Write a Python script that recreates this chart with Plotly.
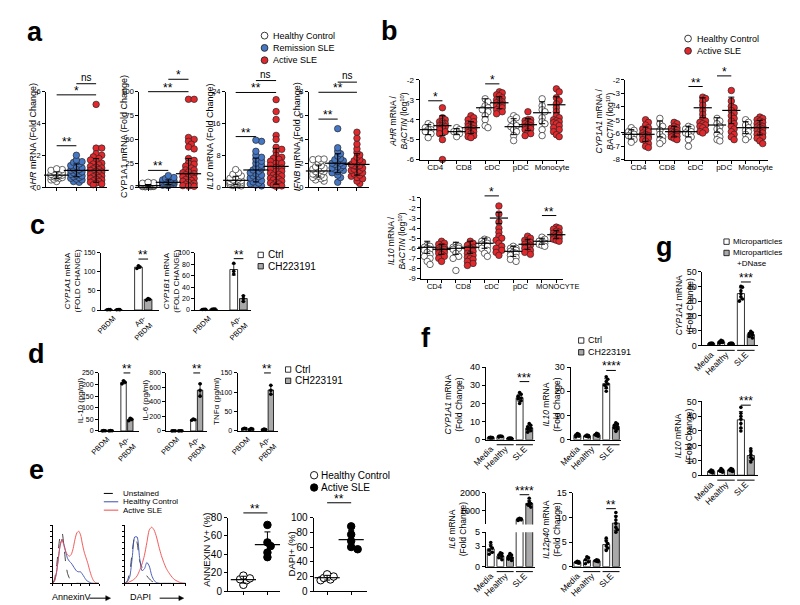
import numpy as np
import plotly.graph_objects as go

# ====================== DATA ======================
# ---- a : PBMC mRNA (fold change) ; groups = Healthy Control, Remission SLE, Active SLE
a_group_names = ["Healthy Control", "Remission SLE", "Active SLE"]
a_ahr_hc = [0.35, 0.45, 0.5, 0.55, 0.6, 0.6, 0.65, 0.65, 0.7, 0.7, 0.75, 0.75, 0.8, 0.8, 0.85, 0.9, 0.95, 1.0, 1.05, 1.1, 1.15]
a_ahr_rem = [0.3, 0.35, 0.45, 0.5, 0.55, 0.6, 0.65, 0.7, 0.75, 0.8, 0.85, 0.9, 0.95, 1.0, 1.05, 1.1, 1.15, 1.2, 1.3, 1.35, 1.45, 1.55, 1.6, 1.7, 2.0]
a_ahr_act = [5.2, 2.45, 2.45, 2.1, 2.0, 1.9, 1.8, 1.7, 1.6, 1.5, 1.45, 1.4, 1.3, 1.25, 1.2, 1.15, 1.1, 1.05, 1.0, 0.95,
             0.9, 0.85, 0.8, 0.75, 0.7, 0.65, 0.6, 0.55, 0.5, 0.45, 0.4, 0.35, 0.3, 0.25, 0.2, 0.15]
a_ahr_mean = [0.75, 1.05, 1.05]
a_ahr_sd = [0.2, 0.4, 0.75]

a_cyp_hc = [0.3, 0.5, 0.6, 0.7, 0.8, 1.0, 1.0, 1.2, 1.3, 1.5, 1.6, 1.8, 2.0, 2.2, 2.5, 3.0, 3.5, 4.0, 4.5, 5.0]
a_cyp_rem = [1.5, 2, 2.5, 3, 3, 3.5, 4, 4, 4.5, 5, 5, 5.5, 6, 6, 6.5, 7, 7.5, 8, 9, 10, 12]
a_cyp_act = [92, 92, 52, 50, 48, 45, 42, 40, 30, 28, 25, 24, 22, 20, 18, 18, 16, 15, 14, 13, 12, 11, 10, 9, 8, 7, 6, 5,
             4, 3, 2, 1.5, 1, 0.8]
a_cyp_mean = [1.5, 5.0, 14.0]
a_cyp_sd = [1.2, 2.5, 16.0]

a_il10_hc = [0.3, 0.4, 0.5, 0.6, 0.6, 0.7, 0.8, 0.9, 1.0, 1.0, 1.1, 1.2, 1.3, 1.4, 1.5, 1.6, 1.8, 2.0, 2.2, 2.5, 2.8,
             3.2, 3.6, 4.4]
a_il10_rem = [0.3, 0.5, 0.8, 1.0, 1.3, 1.6, 2.0, 2.3, 2.6, 2.8, 3.0, 3.3, 3.6, 4.0, 4.3, 4.6, 5.0, 5.5, 6.0, 6.5, 7.0,
              7.5, 8.0, 9.0, 11.5, 11.8]
a_il10_act = [22, 19, 17, 13, 12, 10, 9.5, 9, 8, 7.5, 7.2, 7, 6.5, 6, 6, 5.5, 5, 4.8, 4.5, 4, 4, 3.5, 3.2, 3, 2.8, 2.5,
              2.2, 2, 1.8, 1.5, 1.2, 1, 0.8, 0.5, 0.3, 0.2]
a_il10_mean = [1.7, 4.3, 5.2]
a_il10_sd = [1.0, 3.0, 4.5]

a_ifnb_hc = [0.5, 0.6, 0.7, 0.8, 0.8, 0.9, 1.0, 1.0, 1.1, 1.2, 1.3, 1.3, 1.4, 1.5, 1.5, 1.6, 1.7, 1.8, 2.0, 2.2, 2.3,
             2.35, 2.35]
a_ifnb_rem = [0.4, 0.8, 1.0, 1.2, 1.3, 1.4, 1.5, 1.6, 1.6, 1.7, 1.8, 1.9, 2.0, 2.0, 2.1, 2.2, 2.3, 2.4, 2.6, 2.8, 3.0,
              3.3, 4.9]
a_ifnb_act = [0.3, 0.5, 0.7, 0.8, 0.9, 1.0, 1.1, 1.2, 1.3, 1.4, 1.4, 1.5, 1.6, 1.7, 1.8, 1.8, 1.9, 2.0, 2.1, 2.2, 2.3,
              2.5, 2.7, 2.9, 3.2, 3.6, 4.1, 4.6]
a_ifnb_mean = [1.35, 2.0, 1.9]
a_ifnb_sd = [0.5, 0.8, 0.9]

# ---- b : sorted cells, log10 (mRNA / BACTIN) ; per cell type: Healthy Control vs Active SLE
b_cells = ["CD4", "CD8", "cDC", "pDC", "Monocyte"]
b_cells_il10 = ["CD4", "CD8", "cDC", "pDC", "MONOCYTE"]
b_ahr_hc = [[-4.2, -4.3, -4.4, -4.5, -4.5, -4.6, -4.7, -4.9],
            [-4.4, -4.5, -4.6, -4.6, -4.7, -4.85],
            [-2.95, -3.1, -3.3, -3.4, -3.5, -3.6, -3.8, -4.0, -4.3, -4.4],
            [-3.8, -3.9, -4.0, -4.2, -4.3, -4.35, -4.5, -4.6, -4.8, -5.05],
            [-2.95, -3.3, -3.5, -3.6, -3.9, -4.1, -4.2, -4.5, -4.8]]
b_ahr_sle = [[-3.4, -3.9, -4.0, -4.1, -4.1, -4.2, -4.2, -4.3, -4.3, -4.35, -4.4, -4.5, -4.6, -4.7, -5.0, -6.0],
             [-3.8, -3.9, -4.0, -4.1, -4.2, -4.25, -4.3, -4.35, -4.4, -4.45, -4.5, -4.55, -4.6, -4.65, -4.7, -4.8, -4.85, -4.9],
             [-2.6, -2.65, -2.75, -2.8, -2.9, -3.0, -3.0, -3.1, -3.1, -3.15, -3.2, -3.25, -3.3, -3.35, -3.4, -3.5, -3.6, -3.7],
             [-3.6, -4.0, -4.0, -4.05, -4.1, -4.15, -4.2, -4.25, -4.3, -4.35, -4.4, -4.45, -4.5, -4.6, -4.7, -4.8],
             [-2.45, -2.6, -2.9, -3.05, -3.2, -3.4, -3.6, -3.8, -3.9, -4.0, -4.05, -4.1, -4.15, -4.2, -4.3, -4.4, -4.5,
              -4.6, -4.75, -4.85]]
b_ahr_mean_hc = [-4.5, -4.6, -3.4, -4.35, -3.65]
b_ahr_mean_sle = [-4.3, -4.4, -3.15, -4.25, -3.25]
b_ahr_sd_hc = [0.25, 0.15, 0.45, 0.4, 0.55]
b_ahr_sd_sle = [0.5, 0.3, 0.3, 0.3, 0.4]

b_cyp_hc = [[-5.6, -5.8, -5.9, -6.0, -6.1, -6.2, -6.3, -6.5, -6.7],
            [-4.9, -5.3, -5.5, -5.8, -6.1, -6.3, -6.5, -6.6, -6.8],
            [-5.5, -5.6, -5.7, -5.8, -5.9, -6.0, -6.1, -6.3, -6.5, -7.0],
            [-4.9, -5.1, -5.3, -5.5, -5.7, -5.9, -6.1, -6.3, -6.5, -6.6],
            [-5.0, -5.2, -5.4, -5.6, -5.8, -5.9, -6.1, -6.3, -6.5]]
b_cyp_sle = [[-5.0, -5.2, -5.4, -5.6, -5.7, -5.8, -5.9, -6.0, -6.1, -6.2, -6.2, -6.3, -6.4, -6.5, -6.6, -6.8, -7.0, -7.1],
             [-5.2, -5.3, -5.5, -5.6, -5.65, -5.7, -5.8, -5.9, -5.95, -6.0, -6.1, -6.2, -6.25, -6.3, -6.4, -6.5],
             [-3.3, -3.4, -3.6, -3.9, -4.3, -4.6, -4.9, -5.1, -5.2, -5.3, -5.4, -5.5, -5.6, -5.8, -5.9, -6.0],
             [-2.8, -3.6, -4.0, -4.1, -4.3, -4.5, -4.7, -4.9, -5.1, -5.3, -5.5, -5.7, -5.9, -6.1, -6.3, -6.5],
             [-4.8, -4.9, -5.0, -5.1, -5.2, -5.3, -5.4, -5.5, -5.55, -5.6, -5.7, -5.8, -5.9, -6.0, -6.1, -6.2, -6.3,
              -6.4, -6.6, -6.8]]
b_cyp_mean_hc = [-6.1, -5.7, -5.9, -5.4, -5.6]
b_cyp_mean_sle = [-6.1, -5.9, -4.1, -4.3, -5.6]
b_cyp_sd_hc = [0.35, 0.6, 0.4, 0.55, 0.45]
b_cyp_sd_sle = [0.55, 0.4, 0.75, 1.0, 0.55]

b_il10_hc = [[-5.7, -5.8, -5.9, -6.0, -6.1, -6.2, -6.4, -6.6, -6.8, -7.0, -7.3, -7.6],
             [-5.7, -5.8, -5.9, -5.95, -6.0, -6.1, -6.5, -6.8, -7.0, -8.2],
             [-5.1, -5.2, -5.3, -5.4, -5.5, -5.6, -5.7, -5.8, -6.0, -6.2, -6.5, -6.8],
             [-5.8, -6.0, -6.0, -6.1, -6.2, -6.3, -6.4, -6.5, -6.7, -6.9, -7.1, -7.3],
             [-4.9, -5.1, -5.3, -5.4, -5.5, -5.6, -5.7, -5.8]]
b_il10_sle = [[-5.3, -5.5, -5.6, -5.8, -5.9, -6.0, -6.05, -6.1, -6.2, -6.3, -6.4, -6.5, -6.6, -6.8, -7.0, -7.3],
              [-5.3, -5.5, -5.7, -5.9, -6.0, -6.1, -6.3, -6.5, -6.6, -6.7, -6.9, -7.0, -7.1, -7.3, -7.5, -7.7],
              [-1.8, -2.6, -3.4, -4.0, -4.4, -4.8, -5.0, -5.2, -5.5, -5.8, -6.0, -6.2, -6.4, -6.7],
              [-4.8, -5.0, -5.2, -5.4, -5.5, -5.6, -5.7, -5.8, -6.0, -6.2, -6.4, -6.6],
              [-3.9, -4.0, -4.1, -4.3, -4.4, -4.5, -4.6, -4.7, -4.8, -4.9, -5.0, -5.1, -5.2, -5.3]]
b_il10_mean_hc = [-5.9, -6.0, -5.5, -6.3, -5.3]
b_il10_mean_sle = [-6.1, -5.9, -3.0, -5.6, -4.65]
b_il10_sd_hc = [0.6, 0.6, 0.5, 0.5, 0.3]
b_il10_sd_sle = [0.5, 0.6, 0.55, 0.5, 0.4]

# ---- c / d : PBDM vs apoptotic-cell-treated PBDM, Ctrl vs CH223191 (replicates per bar)
cd_categories = ["PBDM", "Ap-<br>PBDM"]
c_cyp1a1_ctrl = [[0.8, 1.0, 1.2], [109, 113, 116]]
c_cyp1a1_ch = [[0.8, 1.0, 1.2], [26, 28, 30]]
c_cyp1b1_ctrl = [[1.0, 1.2, 1.4], [63, 68, 82]]
c_cyp1b1_ch = [[1.3, 1.5, 1.7], [15, 20, 25]]
d_il10_ctrl = [[0.5, 1.0, 1.5], [203, 210, 216]]
d_il10_ch = [[0.5, 1.0, 1.5], [44, 50, 55]]
d_il6_ctrl = [[1, 2, 3], [148, 155, 165]]
d_il6_ch = [[1, 2, 3], [480, 560, 650]]
d_tnf_ctrl = [[5, 6, 7], [3, 4, 5]]
d_tnf_ch = [[4, 5, 6], [95, 105, 118]]

# ---- e : flow histograms (log10 fluorescence vs % of max) and summary dot plots
e_hist_x = [0.0, 0.2, 0.4, 0.6, 0.8, 1.0, 1.2, 1.4, 1.6, 1.8, 2.0, 2.2, 2.4, 2.6, 2.8, 3.0, 3.2, 3.4, 3.6, 3.8, 4.0,
            4.2, 4.4, 4.6, 4.8, 5.0]
annexin_unstained = [0, 8, 28, 58, 82, 88, 65, 35, 17, 9, 5, 2.5, 1, 0.3, 0, 0, 0, 0, 0, 0, 0, 0, 0, 0, 0, 0]
annexin_healthy = [0, 5, 19, 43, 66, 76, 68, 54, 43, 38, 35, 30, 25, 21, 20, 20, 16, 11, 6, 3.5, 1.8, 0.5, 0.2, 0, 0, 0]
annexin_sle = [0, 5, 19, 43, 66, 76, 65, 55, 49, 47, 50, 60, 76, 87, 90, 84, 68, 54, 44, 34, 22, 12, 5, 1.5, 0.3, 0]
dapi_unstained = [0, 5, 20, 55, 81, 70, 40, 28, 20, 13, 8, 4, 2, 1, 0.3, 0, 0, 0, 0, 0, 0, 0, 0, 0, 0, 0]
dapi_healthy = [0, 3, 12, 45, 80, 80, 45, 22, 25, 36, 30, 14, 5, 1.5, 0.3, 0, 0, 0, 0, 0, 0, 0, 0, 0, 0, 0]
dapi_sle = [0, 1, 3, 5, 8, 13, 22, 33, 48, 70, 92, 97, 92, 80, 63, 48, 36, 26, 19, 13, 8, 5, 3, 1, 0.3, 0]
e_annexin_hc = [7, 12, 13, 14, 17]
e_annexin_sle = [72, 53, 49, 42, 37]
e_annexin_mean = [12.6, 50.6]
e_annexin_sd = [3.7, 13.8]
e_dapi_hc = [15, 16, 18, 20, 23]
e_dapi_sle = [88, 77, 68, 60, 57]
e_dapi_mean = [18.4, 70.0]
e_dapi_sd = [3.2, 12.5]

# ---- f / g : bars = Media, Healthy (Ctrl), Healthy (treated), SLE (Ctrl), SLE (treated)
fg_categories = ["Media", "Healthy", "SLE"]
f_cyp1a1 = [[1.0, 1.1, 1.2, 1.3, 1.4, 1.2], [1.5, 1.7, 1.8, 2.0, 2.1, 1.9], [0.6, 0.7, 0.8, 0.9, 1.0, 0.8],
            [20, 21.5, 22.5, 23, 24, 25, 26], [4.2, 5, 5.8, 6.5, 7.2, 8, 9]]
f_il10 = [[1.2, 1.5, 1.8, 2.0, 2.3, 2.6], [1.2, 1.4, 1.6, 1.8, 2.0], [1.5, 1.8, 2.1, 2.4, 2.7],
          [20, 21.5, 22.5, 23, 24, 25, 26], [3.5, 4.5, 5, 5.5, 6, 6.5, 7]]
f_il6 = [[1.8, 2.1, 2.4, 2.7, 3.0, 3.5], [1.0, 1.3, 1.5, 1.7, 1.9, 2.0], [0.9, 1.1, 1.3, 1.5, 1.7, 1.9],
         [440, 480, 500, 520, 540, 560], [1200, 1300, 1350, 1400, 1500, 1700]]
f_il12p40 = [[0.7, 0.8, 0.9, 1.0, 1.1], [0.6, 1.0, 1.4, 1.8, 2.0], [1.0, 1.1, 1.2, 1.3, 1.4],
             [3.3, 3.8, 4.2, 4.7, 5.2, 5.8], [7, 7.5, 8, 8.8, 9.5, 10.2, 11]]
g_cyp1a1 = [[0.8, 1.0, 1.2, 1.4, 1.6], [1.5, 2, 2.5, 3, 3.5, 2.2], [0.8, 1.0, 1.2, 1.4, 1.6],
            [30, 31.5, 33, 35, 37, 39.5, 40], [5, 6, 7, 8, 8.5, 9.5]]
g_il10 = [[1.5, 2, 2.5, 3, 3.5], [2, 2.5, 3, 3.5, 4.5], [2.5, 3, 3.5, 4, 4.5],
          [30, 32, 35, 38, 40, 42, 46], [9, 11, 12, 14, 16, 18]]

# ====================== STYLE / LAYOUT HELPERS ======================
W, H = 800, 605
RED = "#e2282c"
BLUE = "#4677c4"
GREY = "#a9a9a9"
EDGE = "#262626"
HBLUE = "#3b4fb0"
HRED = "#ee4a4a"

fig = go.Figure()
layout = dict(width=W, height=H, margin=dict(l=0, r=0, t=0, b=0, pad=0), paper_bgcolor="white",
              plot_bgcolor="rgba(0,0,0,0)", showlegend=False, barmode="overlay", hovermode=False,
              font=dict(family="Arial, 'Liberation Sans', Helvetica, sans-serif", size=8, color="black"))
shapes, annots = [], []


class Ax:
    n = 0

    def __init__(self, x0, x1, ytop, ybot, xr, yr, yticks=None, ytfs=8, xtickvals=None, xticktext=None, xtfs=8,
                 xangle=0, xticks="", showx=True, ylabels=True, xminor=None, ticklen=3):
        Ax.n += 1
        n = Ax.n
        self.x = "x" if n == 1 else f"x{n}"
        self.y = "y" if n == 1 else f"y{n}"
        kx = "xaxis" if n == 1 else f"xaxis{n}"
        ky = "yaxis" if n == 1 else f"yaxis{n}"
        self.x0, self.x1, self.ytop, self.ybot = x0, x1, ytop, ybot
        self.xr, self.yr = xr, yr
        self.sx = (x1 - x0) / (xr[1] - xr[0])
        self.sy = (ybot - ytop) / (yr[1] - yr[0])
        xa = dict(domain=[x0 / W, x1 / W], range=list(xr), anchor=self.y, showline=showx, linecolor="black",
                  linewidth=1, showgrid=False, zeroline=False, ticks=xticks if showx else "", ticklen=ticklen,
                  tickwidth=1, tickcolor="black", tickfont=dict(size=xtfs), tickangle=xangle, fixedrange=True)
        if xtickvals is not None and showx:
            xa.update(tickmode="array", tickvals=xtickvals)
            if xticktext is None:
                xa["showticklabels"] = False
            else:
                xa["ticktext"] = xticktext
        else:
            xa.update(showticklabels=False)
        if xminor is not None:
            xa["minor"] = dict(tickmode="array", tickvals=xminor, ticks="outside", ticklen=3, tickcolor="black",
                               tickwidth=1)
        ya = dict(domain=[1 - ybot / H, 1 - ytop / H], range=list(yr), anchor=self.x, showline=True,
                  linecolor="black", linewidth=1, showgrid=False, zeroline=False, ticks="outside", ticklen=ticklen,
                  tickwidth=1, tickcolor="black", tickfont=dict(size=ytfs), fixedrange=True)
        if yticks is not None:
            ya.update(tickmode="array", tickvals=yticks, ticktext=[str(v) for v in yticks])
        if not ylabels:
            ya["showticklabels"] = False
        layout[kx] = xa
        layout[ky] = ya

    def px(self, v):
        return self.x0 + (v - self.xr[0]) * self.sx

    def py(self, v):
        return self.ybot - (v - self.yr[0]) * self.sy


def swarm(vals, sx, sy, d, halfw, sep=0.6):
    """beeswarm layout: horizontal offsets (data units) so markers do not pile up"""
    vals = np.asarray(vals, float)
    order = np.argsort(-vals, kind="stable")
    step = max(d * 0.45, 0.5)
    cands = [0.0]
    k = 1
    while k * step <= halfw + 1e-9:
        cands += [k * step, -k * step]
        k += 1
    placed = []
    offs = np.zeros(len(vals))
    mind = d * sep
    for i in order:
        yp = vals[i] * sy
        best, bestd = 0.0, -1.0
        for c in cands:
            dm = min([np.hypot(c - p[0], yp - p[1]) for p in placed] or [1e9])
            if dm >= mind:
                best = c
                break
            if dm > bestd:
                bestd, best = dm, c
        placed.append((best, yp))
        offs[i] = best / sx
    return offs


def dots(ax, pos, vals, fill, d, halfw, edge=EDGE, lw=0.7, sep=0.6, clip=False):
    offs = swarm(vals, ax.sx, ax.sy, d, halfw, sep)
    fig.add_trace(go.Scatter(x=list(pos + offs), y=list(vals), xaxis=ax.x, yaxis=ax.y, mode="markers",
                             marker=dict(size=d, color=fill, line=dict(color=edge, width=lw)), cliponaxis=clip))


def meanbar(ax, pos, centers, errs, length):
    fig.add_trace(go.Scatter(x=pos, y=centers, xaxis=ax.x, yaxis=ax.y, mode="markers",
                             marker=dict(symbol="line-ew", size=length, color="black",
                                         line=dict(color="black", width=1.2)),
                             error_y=dict(type="data", array=errs, visible=True, width=3, thickness=1, color="black"),
                             cliponaxis=False))


def bar(ax, pos, vals, fill, w, clip_dots=False, dot_d=3.6):
    m = float(np.mean(vals))
    s = float(np.std(vals, ddof=1))
    fig.add_trace(go.Bar(x=[pos], y=[m], width=[w], xaxis=ax.x, yaxis=ax.y,
                         marker=dict(color=fill, line=dict(color="black", width=0.8)),
                         error_y=dict(type="data", array=[s], visible=True, width=2, thickness=0.8, color="black")))
    dots(ax, pos, vals, "black", dot_d, w * ax.sx * 0.3, edge="black", lw=0, sep=0.8, clip=clip_dots)


def text(px, py, s, size=9, xanchor="left", yanchor="middle", angle=0):
    annots.append(dict(xref="paper", yref="paper", x=px / W, y=1 - py / H, text=s, showarrow=False,
                       xanchor=xanchor, yanchor=yanchor, textangle=angle, font=dict(size=size)))


def hline(x0, x1, y, color="black", width=1, dash="solid"):
    shapes.append(dict(type="line", xref="paper", yref="paper", x0=x0 / W, x1=x1 / W, y0=1 - y / H, y1=1 - y / H,
                       line=dict(color=color, width=width, dash=dash)))


def arrow(x0, x1, y):
    hline(x0, x1 - 3, y)
    path = "M %f,%f L %f,%f L %f,%f Z" % (x1 / W, 1 - y / H, (x1 - 5) / W, 1 - (y - 2.5) / H,
                                          (x1 - 5) / W, 1 - (y + 2.5) / H)
    shapes.append(dict(type="path", xref="paper", yref="paper", path=path, fillcolor="black",
                       line=dict(color="black", width=0.5)))


def bracket(ax, xa, xb, y, s, fs=12):
    X0, X1, Y = ax.px(xa), ax.px(xb), ax.py(y)
    hline(X0, X1, Y)
    annots.append(dict(xref="paper", yref="paper", x=(X0 + X1) / 2 / W, y=1 - Y / H, text=s, showarrow=False,
                       xanchor="center", yanchor="bottom", yshift=-5 if "*" in s else -1,
                       font=dict(size=fs if "*" in s else 10)))


def circ(cx, cy, r, fill, edge=EDGE):
    shapes.append(dict(type="circle", xref="paper", yref="paper", x0=(cx - r) / W, x1=(cx + r) / W,
                       y0=1 - (cy + r) / H, y1=1 - (cy - r) / H, fillcolor=fill, line=dict(color=edge, width=0.9)))


def sq(cx, cy, s, fill):
    shapes.append(dict(type="rect", xref="paper", yref="paper", x0=(cx - s / 2) / W, x1=(cx + s / 2) / W,
                       y0=1 - (cy + s / 2) / H, y1=1 - (cy - s / 2) / H, fillcolor=fill,
                       line=dict(color="black", width=0.8)))


# ====================== PANEL a ======================
a_fills = ["white", BLUE, RED]
a_specs = [
    (25, 88, 36, 20.5, [0, 6], [0, 2, 4, 6], (a_ahr_hc, a_ahr_rem, a_ahr_act), a_ahr_mean, a_ahr_sd,
     "<i>AHR</i> mRNA (Fold Change)", 11, [(0, 1, 2.6, "**"), (0, 2, 5.8, "*"), (1, 2, 6.5, "ns")]),
    (122, 183, 131, 21, [0, 100], [0, 25, 50, 75, 100], (a_cyp_hc, a_cyp_rem, a_cyp_act), a_cyp_mean, a_cyp_sd,
     "CYP1A1 mRNA (Fold Change)", 106, [(0, 1, 17.5, "**"), (0, 2, 100, "**"), (1, 2, 113, "*")]),
    (212, 277, 222, 21, [0, 24], [0, 8, 16, 24], (a_il10_hc, a_il10_rem, a_il10_act), a_il10_mean, a_il10_sd,
     "<i>IL10</i> mRNA (Fold Change)", 195, [(0, 1, 12.7, "**"), (0, 2, 23.8, "**"), (1, 2, 26.8, "ns")]),
    (298, 360, 308, 20, [0, 8], [0, 2, 4, 6, 8], (a_ifnb_hc, a_ifnb_rem, a_ifnb_act), a_ifnb_mean, a_ifnb_sd,
     "<i>IFNB</i> mRNA (Fold Change)", 286, [(0, 1, 5.7, "**"), (0, 2, 7.95, "**"), (1, 2, 8.8, "ns")]),
]
for (x0, x1, p0, unit, yr, yt, groups, cen, err, title, tx, brs) in a_specs:
    ax = Ax(x0, x1, 80, 177, [(x0 - p0) / unit, (x1 - p0) / unit], yr, yticks=yt, ytfs=7.5,
            xtickvals=[0, 1, 2], xticktext=None, xticks="outside")
    for i, (vals, fill) in enumerate(zip(groups, a_fills)):
        dots(ax, i, vals, fill, 6.5, 7, sep=0.55)
    meanbar(ax, [0, 1, 2], cen, err, 18)
    for (i, j, y, s) in brs:
        bracket(ax, i, j, y, s)
    text(tx, 126, title, 9, "center", "middle", -90)

for k, (name, fill) in enumerate(zip(a_group_names, a_fills)):
    circ(252, 23 + 12.5 * k, 3.5, fill)
    text(259, 23 + 12.5 * k, name, 9)

# ====================== PANEL b ======================
b_specs = [
    (413, 563, 68, 149, 422, 14.8, [-6, -2], [-6, -5, -4, -3, -2], b_ahr_hc, b_ahr_sle, b_ahr_mean_hc,
     b_ahr_mean_sle, b_ahr_sd_hc, b_ahr_sd_sle, "<i>AHR</i> mRNA /<br><i>BACTIN</i> (log<sup>10</sup>)", (391, 110),
     b_cells, [(0, 1, -3.05, "*"), (4, 5, -2.2, "*")], 8),
    (627, 775, 68, 149, 633, 14.85, [-8, -2], [-8, -7, -6, -5, -4, -3, -2], b_cyp_hc, b_cyp_sle, b_cyp_mean_hc,
     b_cyp_mean_sle, b_cyp_sd_hc, b_cyp_sd_sle, "<i>CYP1A1</i> mRNA /<br><i>BACTIN</i> (log<sup>10</sup>)",
     (605, 110), b_cells, [(4, 5, -2.5, "**"), (6, 7, -1.7, "*")], 8),
    (415, 562, 188, 270, 421, 14.9, [-9, -1], [-9, -8, -7, -6, -5, -4, -3, -2, -1], b_il10_hc, b_il10_sle,
     b_il10_mean_hc, b_il10_mean_sle, b_il10_sd_hc, b_il10_sd_sle,
     "<i>IL10</i> mRNA /<br><i>BACTIN</i> (log<sup>10</sup>)", (389, 232), b_cells_il10,
     [(4, 5, -0.8, "*"), (8, 9, -2.75, "**")], 7.5),
]
for (x0, x1, yt_, yb_, p0, unit, yr, yt, hc, sle, mhc, msle, shc, ssle, title, tpos, cells, brs, cfs) in b_specs:
    ncell = len(cells)
    label_pos = [2 * i + 0.5 for i in range(ncell)]
    label_pos[-1] = 2 * (ncell - 1) + 0.5 + (0.6 if len(cells[-1]) > 8 or cells[-1].isupper() else 0.2)
    ax = Ax(x0, x1, yt_, yb_, [(x0 - p0) / unit, (x1 - p0) / unit], yr, yticks=yt, ytfs=8,
            xtickvals=label_pos, xticktext=cells, xtfs=cfs, xticks="",
            xminor=list(range(2 * ncell)))
    for i in range(ncell):
        dots(ax, 2 * i, hc[i], "white", 6.5, 5, sep=0.55)
        dots(ax, 2 * i + 1, sle[i], RED, 6.5, 5, sep=0.55)
    pos = []
    cen = []
    err = []
    for i in range(ncell):
        pos += [2 * i, 2 * i + 1]
        cen += [mhc[i], msle[i]]
        err += [shc[i], ssle[i]]
    meanbar(ax, pos, cen, err, 13)
    for (i, j, y, s) in brs:
        bracket(ax, i, j, y, s)
    text(tpos[0], tpos[1], title, 8.5, "center", "middle", -90)

for k, (name, fill) in enumerate(zip(["Healthy Control", "Active SLE"], ["white", RED])):
    circ(692, 26 + 12.5 * k, 3.5, fill)
    text(699, 26 + 12.5 * k, name, 9)

# ====================== PANELS c & d ======================
cd_specs = [
    (82, 142, 244, 302, 95, 10, 3.1, [0, 150], [0, 50, 100, 150], c_cyp1a1_ctrl, c_cyp1a1_ch,
     "<i>CYP1A1</i> mRNA<br>(FOLD CHANGE)", (52, 273), 134),
    (180, 238, 244, 302, 194, 10, 3.1, [0, 100], [0, 20, 40, 60, 80, 100], c_cyp1b1_ctrl, c_cyp1b1_ch,
     "<i>CYP1B1</i> mRNA<br>(FOLD CHANGE)", (155, 273), 90),
    (80, 122, 366, 425, 88.5, 7, 2.93, [0, 250], [0, 50, 100, 150, 200, 250], d_il10_ctrl, d_il10_ch,
     "IL-10 (pg/ml)", (61, 394), 250),
    (150, 192, 366, 425, 161, 7, 2.93, [0, 800], [0, 200, 400, 600, 800], d_il6_ctrl, d_il6_ch,
     "IL-6 (pg/ml)", (128, 394), 800),
    (224, 266, 366, 425, 234.5, 7, 2.93, [0, 150], [0, 50, 100, 150], d_tnf_ctrl, d_tnf_ch,
     "TNFα (pg/ml)", (202, 394), 150),
]
for (x0, x1, yt_, yb_, p0, unit, gap, yr, yt, ctrl, ch, title, tpos, by) in cd_specs:
    centres = [i * gap for i in range(len(cd_categories))]
    ax = Ax(x0, x1, yt_, yb_, [(x0 - p0) / unit, (x1 - p0) / unit], yr, yticks=yt, ytfs=7,
            xtickvals=centres, xticktext=cd_categories, xtfs=7.5, xangle=-45)
    for ci, c in enumerate(centres):
        bar(ax, c - 0.5, ctrl[ci], "white", 0.8)
        bar(ax, c + 0.5, ch[ci], GREY, 0.8)
    bracket(ax, centres[1] - 0.5, centres[1] + 0.5, by, "**", 12)
    text(tpos[0], tpos[1], title, 8, "center", "middle", -90)

for (lx, ly, fs) in [(248, 246, 10), (276.5, 362.5, 10)]:
    sq(lx, ly, 5.5, "white")
    text(lx + 5, ly, "Ctrl", fs)
    sq(lx, ly + 11.5, 5.5, GREY)
    text(lx + 5, ly + 11.5, "CH223191", fs)

# ====================== PANEL e ======================
for (x0, x1, unst, hc, sle, lab, labx, arr) in [
        (32, 80, annexin_unstained, annexin_healthy, annexin_sle, "AnnexinV", 29, (70, 92)),
        (107, 170, dapi_unstained, dapi_healthy, dapi_sle, "DAPI", 110, (143, 168))]:
    ax = Ax(x0, x1, 521, 580, [0, 5], [0, 100], yticks=list(range(0, 101, 10)), ylabels=False,
            xtickvals=[0, 1, 2, 3, 4, 5], xticktext=None, xticks="outside", ticklen=2)
    for ys, col, dash in ((unst, "#333333", "dash"), (hc, HBLUE, "solid"), (sle, HRED, "solid")):
        fig.add_trace(go.Scatter(x=e_hist_x, y=ys, xaxis=ax.x, yaxis=ax.y, mode="lines",
                                 line=dict(color=col, width=0.9, dash=dash, shape="spline", smoothing=0.6)))
    text(labx, 594, lab, 9)
    arrow(arr[0], arr[1], 595)

for k, (name, col, dash) in enumerate([("Unstained", "black", "dash"), ("Healthy Control", HBLUE, "solid"),
                                       ("Active SLE", HRED, "solid")]):
    hline(85, 100, 488.5 + 8.5 * k, col, 1, dash)
    text(103, 488.5 + 8.5 * k, name, 8)

for (x0, x1, p0, yr, yt, hc, sle, cen, sd, title, tpos, by) in [
        (214, 268, 230, [0, 80], [0, 20, 40, 60, 80], e_annexin_hc, e_annexin_sle, e_annexin_mean, e_annexin_sd,
         "ANNEXIN V+ (%)", (192, 546), 85),
        (303, 358, 317, [0, 100], [0, 20, 40, 60, 80, 100], e_dapi_hc, e_dapi_sle, e_dapi_mean, e_dapi_sd,
         "DAPI+ (%)", (280, 550), 120)]:
    ax = Ax(x0, x1, 513, 588, [(x0 - p0) / 25, (x1 - p0) / 25], yr, yticks=yt, ytfs=10,
            xtickvals=[0, 1], xticktext=None, xticks="outside")
    dots(ax, 0, hc, "white", 7.5, 9, edge="black", lw=1)
    dots(ax, 1, sle, "black", 7.5, 9, edge="black", lw=1)
    meanbar(ax, [0, 1], cen, sd, 18)
    bracket(ax, 0, 1, by, "**", 12)
    text(tpos[0], tpos[1], title, 9.5, "center", "middle", -90)

circ(303.5, 470, 3.8, "white", "black")
text(309, 470, "Healthy Control", 10)
circ(303.5, 482.5, 3.8, "black", "black")
text(309, 482.5, "Active SLE", 10)

# ====================== PANELS f & g ======================
bar_fills = ["white", "white", GREY, "white", GREY]
fg_tickvals = [0, 1.5, 3.5]


def underline(ax):
    y = ax.ybot + 5
    for a, b in ((1, 2), (3, 4)):
        hline(ax.px(a - 0.38), ax.px(b + 0.38), y)


fg_specs = [
    (482, 533, 360, 434, 487, 10, [0, 40], [0, 10, 20, 30, 40], f_cyp1a1,
     "<i>CYP1A1</i> mRNA<br>(Fold Change)", (448, 398), 32, "***"),
    (570, 622, 360, 434, 577, 10, [0, 30], [0, 10, 20, 30], f_il10,
     "<i>IL10</i> mRNA<br>(Fold Change)", (550, 398), 28.6, "****"),
    (572, 622, 488, 563, 577, 10, [0, 15], [0, 5, 10, 15], f_il12p40,
     "<i>IL12p40</i> mRNA<br>(Fold Change)", (550, 525), 11.8, "**"),
    (707, 765, 263, 338, 716, 10.3, [0, 50], [0, 10, 20, 30, 40, 50], g_cyp1a1,
     "<i>CYP1A1</i> mRNA<br>(Fold Change)", (688, 297), 43, "***"),
    (707, 765, 395, 470, 716, 10.3, [0, 50], [0, 10, 20, 30, 40, 50], g_il10,
     "<i>IL10</i> mRNA<br>(Fold Change)", (688, 430), 47.5, "***"),
]
for (x0, x1, yt_, yb_, p0, unit, yr, yt, bars, title, tpos, by, stars) in fg_specs:
    ax = Ax(x0, x1, yt_, yb_, [(x0 - p0) / unit, (x1 - p0) / unit], yr, yticks=yt, ytfs=9,
            xtickvals=fg_tickvals, xticktext=fg_categories, xtfs=8.5, xangle=-45)
    for i, vals in enumerate(bars):
        bar(ax, i, vals, bar_fills[i], 0.72)
    bracket(ax, 3, 4, by, stars, 12)
    underline(ax)
    text(tpos[0], tpos[1], title, 8.5, "center", "middle", -90)

# f: IL6 with broken y axis
ax_lo = Ax(482, 533, 528, 563, [-0.5, 4.6], [0, 5], yticks=[0, 3, 5], ytfs=9,
           xtickvals=fg_tickvals, xticktext=fg_categories, xtfs=8.5, xangle=-45)
ax_hi = Ax(482, 533, 488, 520, [-0.5, 4.6], [222, 2000], yticks=[1000, 2000], ytfs=9, showx=False)
for i, vals in enumerate(f_il6):
    for a_ in (ax_lo, ax_hi):
        bar(a_, i, vals, bar_fills[i], 0.72, clip_dots=True)
bracket(ax_hi, 3, 4, 1900, "****", 12)
underline(ax_lo)
text(452, 525, "<i>IL6</i> mRNA<br>(Fold Change)", 8.5, "center", "middle", -90)

sq(581, 333, 5.5, "white")
text(586, 333, "Ctrl", 9)
sq(581, 345, 5.5, GREY)
text(586, 345, "CH223191", 9)

sq(732, 232.5, 5.5, "white")
text(737, 232.5, "Microparticles", 8)
sq(732, 244, 5.5, GREY)
text(737, 244, "Microparticles", 8)
text(741, 254.5, "+DNase", 8)

# ====================== PANEL LETTERS ======================
for (lx, ly, s) in [(14, 19, "a"), (382, 18, "b"), (16, 216, "c"), (15, 347, "d"), (15, 465, "e"), (420, 330, "f"),
                    (668, 238, "g")]:
    text(lx, ly, "<b>%s</b>" % s, 27, "center", "middle")

layout["shapes"] = shapes
layout["annotations"] = annots
fig.update_layout(**layout)
fig.write_html("out.html")
